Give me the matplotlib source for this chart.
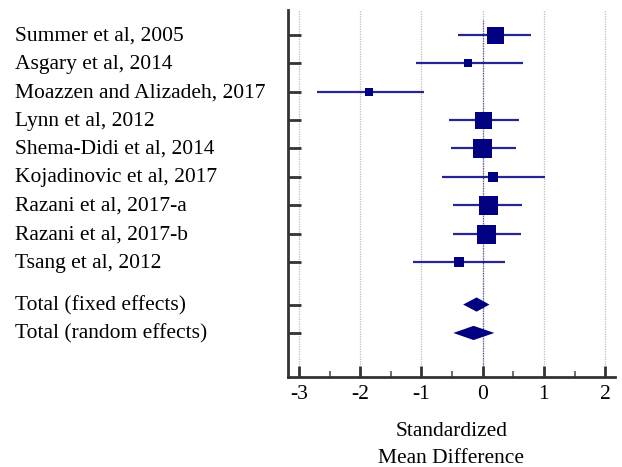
import matplotlib
matplotlib.use('Agg')
import matplotlib.pyplot as plt
from matplotlib.transforms import blended_transform_factory
from matplotlib.ticker import MultipleLocator

plt.rcParams['font.family'] = ['Liberation Serif', 'DejaVu Serif']
plt.rcParams['axes.unicode_minus'] = False

# studies
studies = ['Summer et al, 2005', 'Asgary et al, 2014', 'Moazzen and Alizadeh, 2017',
           'Lynn et al, 2012', 'Shema-Didi et al, 2014', 'Kojadinovic et al, 2017',
           'Razani et al, 2017-a', 'Razani et al, 2017-b', 'Tsang et al, 2012']
smd = [0.20, -0.24, -1.85, 0.01, -0.01, 0.16, 0.08, 0.06, -0.39]
ci_low = [-0.40, -1.09, -2.71, -0.55, -0.52, -0.66, -0.49, -0.49, -1.14]
ci_high = [0.79, 0.66, -0.96, 0.59, 0.54, 1.01, 0.64, 0.62, 0.37]
box_px = [17, 8, 8, 17, 19, 10.5, 19, 19, 10.5]   # square size in pixels

# pooled
totals = ['Total (fixed effects)', 'Total (random effects)']
tot_smd = [-0.10, -0.15]
tot_low = [-0.32, -0.48]
tot_high = [0.11, 0.19]

navy = '#000080'
DPI = 100
FS = 15.5
fig = plt.figure(figsize=(6.22, 4.67), dpi=DPI)
ax = fig.add_axes([288 / 622, 1 - 376.7 / 467, (615 - 288) / 622, (376.7 - 10) / 467])

ypos = list(range(len(studies)))
tot_y = [len(studies) + 0.5, len(studies) + 1.5]

# grid
for x in range(-3, 3):
    ax.axvline(x, color='#bbbbbb', lw=0.9, ls=(0, (1, 1)), zorder=0)
ax.plot([0, 0], [-0.52, 13], color='#5555aa', lw=0.9, ls=(0, (1, 1)), zorder=1)

for y, m, lo, hi, s in zip(ypos, smd, ci_low, ci_high, box_px):
    ax.plot([lo, hi], [y, y], color=navy, lw=1.6, alpha=0.85, zorder=2,
            solid_capstyle='butt')
    ax.plot(m, y, marker='s', ms=s * 72 / DPI, color=navy, mec=navy, mew=0, zorder=3)

half_h = 0.25
for y, m, lo, hi in zip(tot_y, tot_smd, tot_low, tot_high):
    ax.fill([lo, m, hi, m], [y, y - half_h, y, y + half_h], color=navy, lw=0, zorder=3)

ax.set_xlim(-3.18, 2.16)
ax.set_ylim(12.04, -0.87)
ax.set_yticks(ypos + tot_y)
ax.set_yticklabels([])
ax.xaxis.set_major_locator(MultipleLocator(1))
ax.xaxis.set_minor_locator(MultipleLocator(0.5))
ax.tick_params(axis='y', direction='in', length=9, width=2, color='#333333')
ax.tick_params(axis='x', which='major', direction='in', length=8, width=2,
               color='#333333', labelsize=FS, pad=6)
ax.tick_params(axis='x', which='minor', direction='in', length=4, width=1.2,
               color='#555555')
for side in ['top', 'right']:
    ax.spines[side].set_visible(False)
for side in ['left', 'bottom']:
    ax.spines[side].set_linewidth(2)
    ax.spines[side].set_color('#333333')

ax.set_xlabel('Standardized\nMean Difference', fontsize=FS, labelpad=13, linespacing=1.55)

trans = blended_transform_factory(fig.transFigure, ax.transData)
for y, name in zip(ypos + tot_y, studies + totals):
    ax.text(15 / 622, y + 0.04, name, transform=trans, ha='left', va='center',
            fontsize=FS, clip_on=False)

fig.savefig('out.png', dpi=DPI, facecolor='white')
